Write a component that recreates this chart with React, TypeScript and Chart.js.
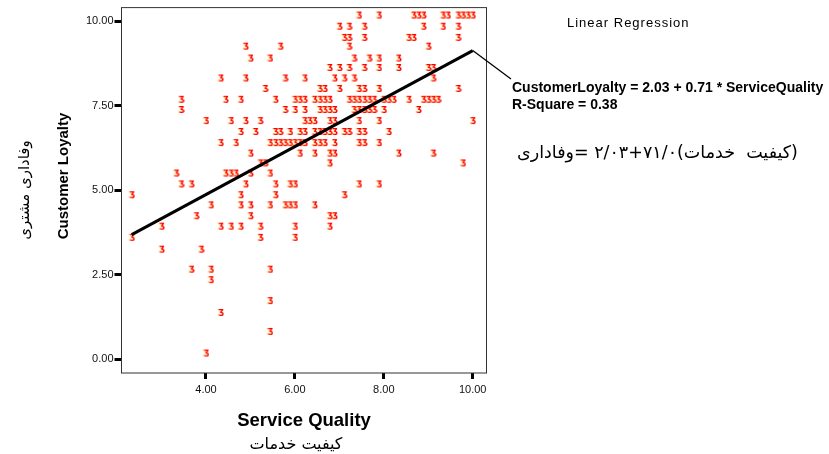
import { useEffect, useRef } from 'react';
import { Chart, registerables } from 'chart.js';
Chart.register(...registerables);

// loyalty levels (rows of the scatter) and the service-quality scores found on each row
const loyaltyLevels = [
  10.15, 9.82, 9.49, 9.23, 8.88, 8.6, 8.29, 7.98, 7.66, 7.36, 7.03, 6.71, 6.38, 6.07, 5.78,
  5.48, 5.16, 4.84, 4.54, 4.22, 3.91, 3.58, 3.23, 2.64, 2.33, 1.71, 1.36, 0.8, 0.16,
];
const qualityAtLevel = [
  [7.44, 7.89, 8.67, 8.78, 8.89, 9.33, 9.44, 9.67, 9.78, 9.89, 10.0],
  [7.0, 7.22, 7.56, 8.89, 9.33, 9.67],
  [7.11, 7.22, 7.56, 8.56, 8.67, 9.67],
  [4.89, 5.67, 7.22, 9.0],
  [5.0, 5.44, 7.33, 7.67, 7.89, 8.33],
  [6.78, 7.0, 7.22, 7.56, 7.89, 8.33, 9.0, 9.11],
  [4.33, 4.89, 5.78, 6.22, 6.89, 7.11, 7.33, 9.11],
  [5.33, 6.56, 6.67, 7.0, 7.44, 7.56, 7.89, 9.67],
  [3.44, 4.44, 4.78, 5.56, 6.0, 6.11, 6.22, 6.44, 6.56, 6.67, 6.78, 7.22, 7.33, 7.44, 7.56,
    7.67, 7.78, 8.0, 8.11, 8.22, 8.56, 8.89, 9.0, 9.11, 9.22],
  [3.44, 5.78, 6.0, 6.22, 6.56, 6.67, 6.78, 6.89, 7.33, 7.44, 7.56, 7.67, 7.78, 8.0, 8.78],
  [4.0, 4.56, 4.89, 5.22, 6.22, 6.33, 6.44, 6.78, 6.89, 7.44, 7.89, 10.0],
  [4.78, 5.11, 5.56, 5.67, 5.89, 6.11, 6.22, 6.44, 6.56, 6.67, 6.78, 6.89, 7.11, 7.22, 7.44,
    7.56, 8.11],
  [4.33, 4.67, 5.44, 5.56, 5.67, 5.78, 5.89, 6.0, 6.11, 6.22, 6.44, 6.56, 6.67, 6.89, 7.44,
    7.56, 7.89],
  [5.0, 6.11, 6.44, 6.78, 6.89, 8.33, 9.11],
  [5.22, 5.33, 6.78, 9.78],
  [3.33, 4.44, 4.56, 4.67, 5.0, 5.44],
  [3.44, 3.67, 4.89, 5.56, 5.89, 6.0, 7.44, 7.89],
  [2.33, 4.78, 5.56, 7.11],
  [4.11, 4.78, 5.0, 5.44, 5.78, 5.89, 6.0, 6.44],
  [3.78, 5.0, 6.78, 6.89],
  [3.0, 4.33, 4.56, 4.78, 5.22, 6.0, 6.78],
  [2.33, 5.22, 6.0],
  [3.0, 3.89],
  [3.67, 4.11, 5.44],
  [4.11],
  [5.44],
  [4.33],
  [5.44],
  [4.0],
];

// fitted line end points
const fitX = [2.33, 10.0];
const fitY = [3.69, 9.13];

const xTicks = [4, 6, 8, 10];
const yTicks = [0, 2.5, 5, 7.5, 10];

const xTitle = 'Service Quality';
const xTitleFa = 'کیفیت خدمات';
const yTitle = 'Customer Loyalty';
const yTitleFa = 'وفاداری مشتری';
const fitName = 'Linear Regression';
const fitText = 'CustomerLoyalty = 2.03 + 0.71 * ServiceQuality';
const rSquareText = 'R-Square = 0.38';
const fitTextFa = '(کیفیت  خدمات)۷۱/۰+۲/۰۳ =وفاداری';

const SANS = '"Liberation Sans", Arial, sans-serif';
const FA = '"DejaVu Sans", sans-serif';

function makeMarker() {
  const c = document.createElement('canvas');
  c.width = 7;
  c.height = 11;
  const g = c.getContext('2d')!;
  g.font = 'bold 9.5px "DejaVu Sans"';
  g.textAlign = 'center';
  g.textBaseline = 'middle';
  g.scale(0.8, 1);
  g.globalAlpha = 0.5;
  g.fillStyle = '#ffd23a';
  g.fillText('Ʒ', 3.3, 5.5);
  g.globalAlpha = 1;
  g.fillStyle = '#ff0000';
  g.fillText('Ʒ', 4.9, 5.5);
  return c;
}

// frame, axis titles and the regression note
const decorations = {
  id: 'decorations',
  afterDraw(chart: Chart) {
    const { ctx, chartArea: a } = chart;
    const xs = chart.scales.x;
    const ys = chart.scales.y;
    ctx.save();
    ctx.strokeStyle = '#333';
    ctx.lineWidth = 1;
    ctx.strokeRect(a.left, a.top, a.right - a.left, a.bottom - a.top);

    ctx.fillStyle = '#000';
    ctx.textAlign = 'center';
    ctx.textBaseline = 'middle';
    const cx = (a.left + a.right) / 2;
    ctx.font = 'bold 18.5px ' + SANS;
    ctx.fillText(xTitle, cx, 421);
    ctx.font = '16px ' + FA;
    ctx.fillText(xTitleFa, cx - 8, 445);

    ctx.save();
    ctx.translate(64, 176);
    ctx.rotate(-Math.PI / 2);
    ctx.font = 'bold 15px ' + SANS;
    ctx.fillText(yTitle, 0, 0);
    ctx.restore();
    ctx.save();
    ctx.translate(25, 190);
    ctx.rotate(-Math.PI / 2);
    ctx.font = '15px ' + FA;
    ctx.fillText(yTitleFa, 0, 0);
    ctx.restore();

    // leader from fit line end to the equation
    const lx = xs.getPixelForValue(fitX[1]);
    const ly = ys.getPixelForValue(fitY[1]);
    ctx.strokeStyle = '#000';
    ctx.lineWidth = 1.3;
    ctx.beginPath();
    ctx.moveTo(lx, ly);
    ctx.lineTo(511, 79);
    ctx.stroke();

    ctx.textAlign = 'left';
    ctx.font = '13px ' + SANS;
    (ctx as any).letterSpacing = '1px';
    ctx.fillText(fitName, 567, 23);
    (ctx as any).letterSpacing = '0px';
    ctx.font = 'bold 14px ' + SANS;
    ctx.fillText(fitText, 512, 88, 314);
    ctx.fillText(rSquareText, 512, 105);

    ctx.font = '17.5px ' + FA;
    ctx.direction = 'rtl';
    ctx.textAlign = 'left';
    ctx.fillText(fitTextFa, 517, 153, 282);
    ctx.restore();
  },
};

export default function App() {
  const ref = useRef<HTMLCanvasElement>(null);

  useEffect(() => {
    const canvas = ref.current;
    if (!canvas) return;
    const marker = makeMarker();
    const points = loyaltyLevels.flatMap((y, i) => qualityAtLevel[i].map(x => ({ x, y })));

    const chart = new Chart(canvas, {
      type: 'scatter',
      data: {
        datasets: [
          {
            data: fitX.map((x, i) => ({ x, y: fitY[i] })),
            showLine: true,
            borderColor: '#000',
            borderWidth: 3,
            pointRadius: 0,
            order: 0,
          },
          {
            data: points,
            pointStyle: marker,
            pointRadius: 4,
            order: 1,
          },
        ],
      },
      options: {
        responsive: false,
        animation: false,
        layout: { padding: { left: 0, top: 7.5, right: 342.5, bottom: 51 } },
        plugins: { legend: { display: false }, tooltip: { enabled: false } },
        scales: {
          x: {
            type: 'linear',
            min: 2.1,
            max: 10.31,
            afterFit: s => { s.height = 30; },
            afterBuildTicks: s => { s.ticks = xTicks.map(value => ({ value })); },
            border: { display: false },
            grid: { drawOnChartArea: false, drawTicks: true, tickLength: 6, tickWidth: 3, tickColor: '#000' },
            ticks: {
              padding: 4,
              maxRotation: 0,
              autoSkip: false,
              color: '#111',
              font: { family: SANS, size: 11 },
              callback: v => Number(v).toFixed(2),
            },
          },
          y: {
            type: 'linear',
            min: -0.4,
            max: 10.4,
            afterFit: s => { s.width = 121.5; },
            afterBuildTicks: s => { s.ticks = yTicks.map(value => ({ value })); },
            border: { display: false },
            grid: { drawOnChartArea: false, drawTicks: true, tickLength: 7, tickWidth: 3, tickColor: '#000' },
            ticks: {
              padding: 1,
              color: '#111',
              font: { family: SANS, size: 11 },
              callback: v => Number(v).toFixed(2),
            },
          },
        },
      },
      plugins: [decorations],
    });

    return () => chart.destroy();
  }, []);

  return (
    <div style={{ position: 'fixed', left: 0, top: 0, width: 829, height: 454, background: '#fff' }}>
      <canvas ref={ref} width={829} height={454} />
    </div>
  );
}
